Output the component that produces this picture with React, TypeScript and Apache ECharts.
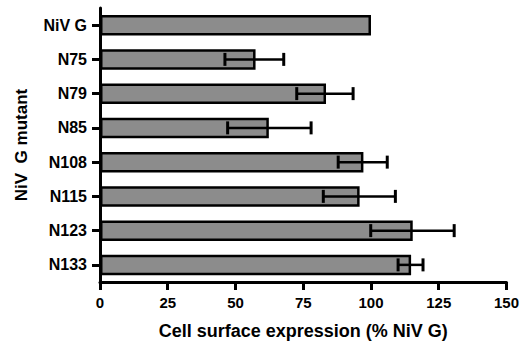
import React, { useEffect, useRef } from "react";
import * as echarts from "echarts";

const categories = ["NiV G", "N75", "N79", "N85", "N108", "N115", "N123", "N133"];
const values = [100, 57.4, 83.4, 62.3, 97.2, 95.8, 115.4, 114.8];
const errLow = [null, 46.1, 72.6, 47.1, 87.9, 82.4, 99.9, 110.0];
const errHigh = [null, 67.8, 93.4, 77.9, 106.0, 109.0, 130.7, 119.2];
const xTicks = { min: 0, max: 150, interval: 25 };

const FONT = "'Liberation Sans', Arial, Helvetica, sans-serif";

export default function App() {
  const ref = useRef<HTMLDivElement>(null);
  useEffect(() => {
    if (!ref.current) return;
    const chart = echarts.init(ref.current, null, { renderer: "svg" });
    const errData = categories
      .map((c, i) => (errLow[i] == null ? null : [errLow[i], errHigh[i], i]))
      .filter((d) => d !== null);
    chart.setOption({
      animation: false,
      backgroundColor: "#ffffff",
      grid: { left: 100, right: 12, top: 8, bottom: 64 },
      xAxis: {
        type: "value",
        min: xTicks.min,
        max: xTicks.max,
        interval: xTicks.interval,
        name: "Cell surface expression (% NiV G)",
        nameLocation: "middle",
        nameGap: 40,
        nameTextStyle: { fontFamily: FONT, fontWeight: "bold", fontSize: 18, color: "#000" },
        axisLine: { show: true, lineStyle: { color: "#000", width: 3 } },
        axisTick: { show: true, length: 8, lineStyle: { color: "#000", width: 3 } },
        axisLabel: { fontFamily: FONT, fontWeight: "bold", fontSize: 15, color: "#000", margin: 13 },
        splitLine: { show: false },
      },
      yAxis: {
        type: "category",
        data: categories,
        inverse: true,
        name: "NiV  G mutant",
        nameLocation: "middle",
        nameRotate: 90,
        nameGap: 70,
        nameTextStyle: { fontFamily: FONT, fontWeight: "bold", fontSize: 17, color: "#000" },
        axisLine: { show: true, lineStyle: { color: "#000", width: 3 } },
        axisTick: { show: true, alignWithLabel: true, length: 8, lineStyle: { color: "#000", width: 3 } },
        axisLabel: { fontFamily: FONT, fontWeight: "bold", fontSize: 16, color: "#000", margin: 13 },
        splitLine: { show: false },
      },
      series: [
        {
          type: "bar",
          data: values,
          barWidth: 20.5,
          itemStyle: { color: "#8c8c8c", borderColor: "#000", borderWidth: 2.5 },
        },
        {
          type: "custom",
          data: errData,
          encode: { x: [0, 1], y: 2 },
          z: 5,
          renderItem: (params: any, api: any) => {
            const lo = api.coord([api.value(0), api.value(2)]);
            const hi = api.coord([api.value(1), api.value(2)]);
            const h = 6.5;
            const style = { stroke: "#000", lineWidth: 2.5 };
            return {
              type: "group",
              children: [
                { type: "line", shape: { x1: lo[0], y1: lo[1], x2: hi[0], y2: hi[1] }, style },
                { type: "line", shape: { x1: lo[0], y1: lo[1] - h, x2: lo[0], y2: lo[1] + h }, style: { stroke: "#000", lineWidth: 3 } },
                { type: "line", shape: { x1: hi[0], y1: hi[1] - h, x2: hi[0], y2: hi[1] + h }, style: { stroke: "#000", lineWidth: 3 } },
              ],
            };
          },
        },
      ],
    });
    return () => chart.dispose();
  }, []);
  return (
    <div
      ref={ref}
      style={{ position: "absolute", left: 0, top: 0, width: 522, height: 346 }}
    />
  );
}
